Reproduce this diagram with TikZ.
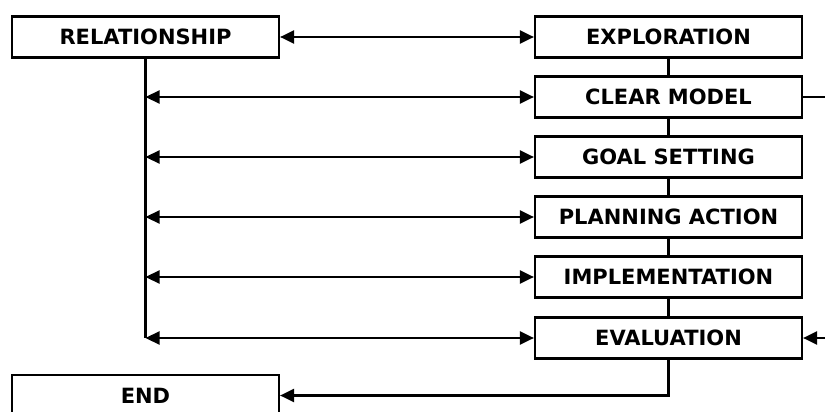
\documentclass[tikz,border=0pt]{standalone}
\usepackage{fontspec}
\setmainfont{DejaVu Sans}
\usetikzlibrary{arrows.meta}
\begin{document}
\begin{tikzpicture}[x=1pt,y=-1pt,
  box/.style={draw,line width=2.2pt,minimum width=267pt,minimum height=41pt,inner sep=0pt,
    font=\fontsize{21}{24}\selectfont\bfseries},
  conn/.style={line width=2.2pt},
  tip/.style={-{Triangle[length=14pt,width=13pt]}},
  both/.style={{Triangle[length=14pt,width=13pt]}-{Triangle[length=14pt,width=13pt]}}]
\useasboundingbox (0,0) rectangle (825,412);
\clip (0,0) rectangle (825,412);
\node[box] (rel) at (145.5,37) {RELATIONSHIP};
\node[box] (expl) at (668.5,37) {EXPLORATION};
\node[box] (clear) at (668.5,97) {CLEAR MODEL};
\node[box] (goal) at (668.5,157) {GOAL SETTING};
\node[box] (plan) at (668.5,217) {PLANNING ACTION};
\node[box] (impl) at (668.5,277) {IMPLEMENTATION};
\node[box] (eval) at (668.5,338) {EVALUATION};
\node[box] (endn) at (145.5,395.5) {END};
\coordinate (s1) at (145.5,97);
\coordinate (s2) at (145.5,157);
\coordinate (s3) at (145.5,217);
\coordinate (s4) at (145.5,277);
\coordinate (s5) at (145.5,338);
\coordinate (loop) at (860,217);
\draw[conn,both] (rel) -- (expl);
\draw[conn] (rel.south) -- (s5);
\draw[conn,both] (s1) -- (clear.west);
\draw[conn,both] (s2) -- (goal.west);
\draw[conn,both] (s3) -- (plan.west);
\draw[conn,both] (s4) -- (impl.west);
\draw[conn,both] (s5) -- (eval.west);
\draw[conn] (expl) -- (clear);
\draw[conn] (clear) -- (goal);
\draw[conn] (goal) -- (plan);
\draw[conn] (plan) -- (impl);
\draw[conn] (impl) -- (eval);
\draw[conn] (clear.east) -| (loop);
\draw[conn,tip] (loop) |- (eval.east);
\draw[conn,tip] (eval.south) |- (endn.east);
\end{tikzpicture}
\end{document}
